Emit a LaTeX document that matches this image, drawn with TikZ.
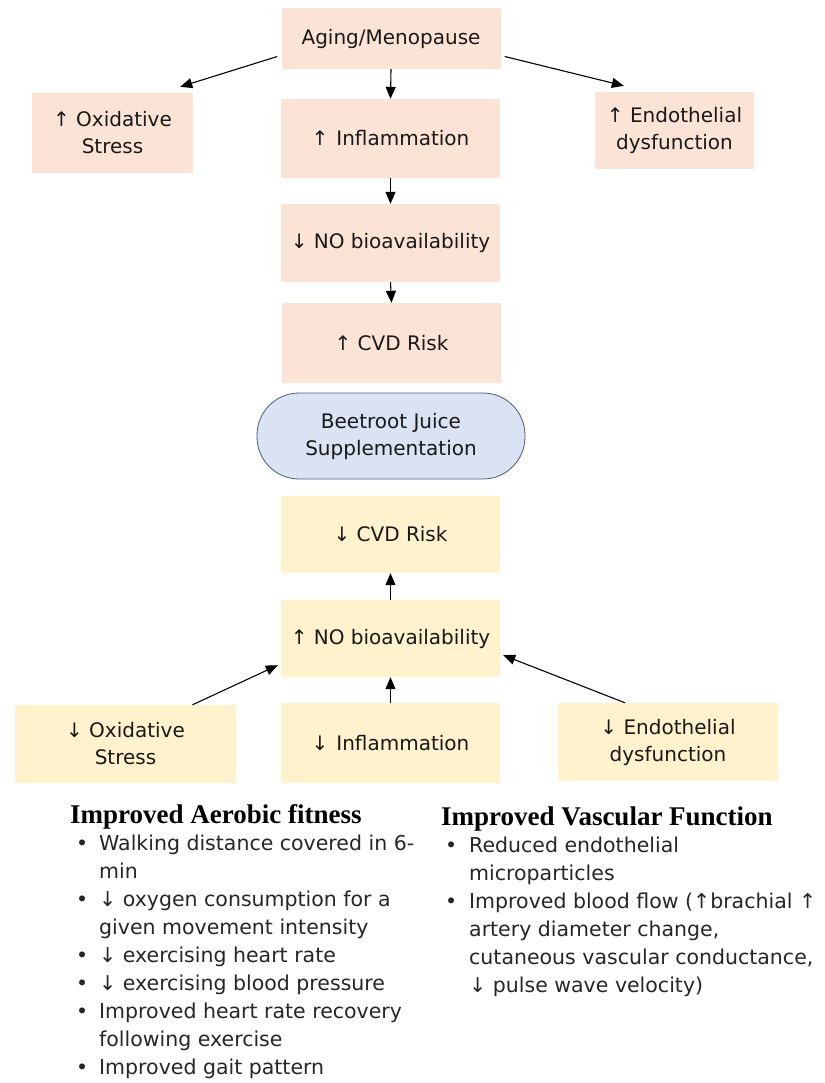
\documentclass[tikz,border=0pt]{standalone}
\usepackage{fontspec}
\setmainfont{DejaVu Sans}
\newfontfamily\headfont{Liberation Serif}
\usetikzlibrary{arrows.meta}
\definecolor{causepink}{HTML}{FBE4D5}
\definecolor{effectyellow}{HTML}{FFF2CC}
\definecolor{juiceblue}{HTML}{DAE3F3}
\definecolor{juiceedge}{HTML}{4A5A78}

\begin{document}
\begin{tikzpicture}[x=1pt,y=-1pt]
	 \tikzstyle{box}=[rectangle,minimum width=219pt,minimum height=79pt,inner sep=2pt,align=center,text=black!90,font=\fontsize{20}{27}\selectfont]
	 \tikzstyle{cause box} = [box, fill=causepink]
	 \tikzstyle{effect box} = [box, fill=effectyellow]
	 \tikzstyle{juice box} = [box, fill=juiceblue, draw=juiceedge, line width=0.8pt, rounded corners=42pt, minimum width=268pt, minimum height=86pt]
	 \tikzstyle{link} = [draw, line width=1.1pt, -{Triangle[length=12pt,width=10pt]}, black]
	 \tikzstyle{head} = [anchor=base west, inner sep=0pt, font=\headfont\bfseries\fontsize{27}{30}\selectfont]
	 \tikzstyle{list} = [anchor=base west, inner sep=0pt, text=black!85, font=\fontsize{20.5}{28.1}\selectfont]
	 \useasboundingbox (0,0) rectangle (824,1083);
	 % before supplementation
	 \node[cause box, minimum height=61pt] (aging) at (391,38.5) {Aging/Menopause};
	 \node[cause box, minimum width=161pt, minimum height=80pt] (oxid) at (112.5,133) {↑ Oxidative\\Stress};
	 \node[cause box] (inflam) at (390.5,138.5) {↑\hspace{8pt}Inflammation};
	 \node[cause box, minimum width=159pt, minimum height=77pt] (endo) at (674.5,130.5) {↑ Endothelial\\dysfunction};
	 \node[cause box, minimum height=78pt] (nolow) at (390.5,243) {↓ NO bioavailability};
	 \node[cause box, minimum height=80pt] (cvdhigh) at (391.5,343) {↑ CVD Risk};
	 % supplementation
	 \node[juice box] (juice) at (391,436) {Beetroot Juice\\Supplementation};
	 % after supplementation
	 \node[effect box, minimum height=77pt] (cvdlow) at (390.5,534.5) {↓ CVD Risk};
	 \node[effect box, minimum height=77pt] (nohigh) at (390.5,638.5) {↑ NO bioavailability};
	 \node[effect box, minimum width=221pt, minimum height=78pt] (oxidlow) at (125.5,744) {↓ Oxidative\\Stress};
	 \node[effect box, minimum height=80pt] (inflamlow) at (390.5,743) {↓\hspace{8pt}Inflammation};
	 \node[effect box, minimum width=220pt, minimum height=78pt] (endolow) at (668,742) {↓ Endothelial\\dysfunction};
	 \draw[link] ([xshift=-4pt,yshift=-18pt]aging.west) -- ([xshift=-13pt,yshift=6pt]oxid.north east);
	 \draw[link] (aging.south) -- (inflam.north);
	 \draw[link] ([xshift=4pt,yshift=-18pt]aging.east) -- ([xshift=29pt,yshift=6pt]endo.north west);
	 \draw[link] (inflam.south) -- (nolow.north);
	 \draw[link] (nolow.south) -- (cvdhigh.north);
	 \draw[link] (nohigh.north) -- (cvdlow.south);
	 \draw[link] (inflamlow.north) -- (nohigh.south);
	 \draw[link] ([xshift=67pt]oxidlow.north) -- ([xshift=-3pt,yshift=12pt]nohigh.south west);
	 \draw[link] ([xshift=-43pt]endolow.north) -- ([xshift=3pt,yshift=22pt]nohigh.south east);
	 % outcomes
	 \node[head] (aerohead) at (70,823) {Improved Aerobic fitness};
	 \node[list] (aerolist) at (76,850) {\begin{tabular}[t]{@{}p{23pt}@{}l@{}}
	 	• & Walking distance covered in 6-\\
	 	  & min\\
	 	• & ↓ oxygen consumption for a\\
	 	  & given movement intensity\\
	 	• & ↓ exercising heart rate\\
	 	• & ↓ exercising blood pressure\\
	 	• & Improved heart rate recovery\\
	 	  & following exercise\\
	 	• & Improved gait pattern
	 \end{tabular}};
	 \node[head] (vaschead) at (441,825) {Improved Vascular Function};
	 \node[list] (vasclist) at (445,852) {\begin{tabular}[t]{@{}p{24pt}@{}l@{}}
	 	• & Reduced endothelial\\
	 	  & microparticles\\
	 	• & Improved blood flow (↑brachial ↑\\
	 	  & artery diameter change,\\
	 	  & cutaneous vascular conductance,\\
	 	  & ↓ pulse wave velocity)
	 \end{tabular}};
\end{tikzpicture}
\end{document}
